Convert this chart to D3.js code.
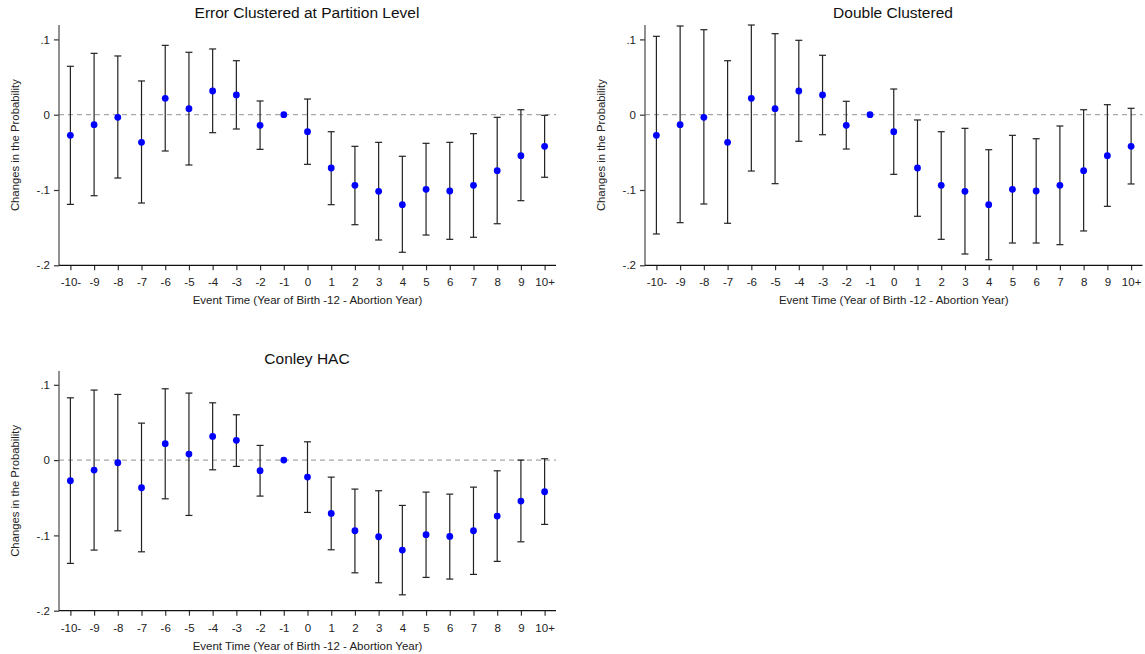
<!DOCTYPE html>
<html><head><meta charset="utf-8">
<script src="https://cdn.jsdelivr.net/npm/d3@7"></script>
<style>body{margin:0;background:#fff;} svg{display:block;font-family:"Liberation Sans",Arial,sans-serif;}</style>
</head><body>
<svg id="c" width="1145" height="654"></svg>
<script>
const categories = ["-10-","-9","-8","-7","-6","-5","-4","-3","-2","-1","0","1","2","3","4","5","6","7","8","9","10+"];
const estimates = [-0.0274,-0.0133,-0.0035,-0.0367,0.0218,0.0080,0.0315,0.0262,-0.0141,0,-0.0226,-0.0708,-0.0938,-0.1018,-0.1195,-0.0991,-0.1013,-0.0938,-0.0744,-0.0544,-0.0420];
const partitionUpper = [0.0643,0.0815,0.0780,0.0448,0.0921,0.0829,0.0873,0.0717,0.0182,null,0.0208,-0.0226,-0.0420,-0.0367,-0.0552,-0.0380,-0.0367,-0.0252,-0.0035,0.0066,-0.0008];
const partitionLower = [-0.1191,-0.1076,-0.0841,-0.1173,-0.0482,-0.0668,-0.0239,-0.0190,-0.0460,null,-0.0659,-0.1195,-0.1461,-0.1664,-0.1827,-0.1598,-0.1655,-0.1628,-0.1448,-0.1142,-0.0831];
const doubleUpper = [0.1041,0.1178,0.1129,0.0717,0.1191,0.1076,0.0988,0.0789,0.0178,null,0.0341,-0.0070,-0.0226,-0.0181,-0.0465,-0.0274,-0.0319,-0.0150,0.0066,0.0133,0.0085];
const doubleLower = [-0.1584,-0.1434,-0.1186,-0.1442,-0.0748,-0.0916,-0.0353,-0.0266,-0.0456,null,-0.0792,-0.1349,-0.1655,-0.1850,-0.1926,-0.1704,-0.1704,-0.1726,-0.1544,-0.1217,-0.0920];
const conleyUpper = [0.0827,0.0930,0.0872,0.0491,0.0947,0.0890,0.0761,0.0602,0.0195,null,0.0243,-0.0226,-0.0385,-0.0407,-0.0602,-0.0425,-0.0452,-0.0359,-0.0142,0.0000,0.0018];
const conleyLower = [-0.1372,-0.1195,-0.0939,-0.1218,-0.0514,-0.0735,-0.0129,-0.0084,-0.0478,null,-0.0695,-0.1191,-0.1497,-0.1629,-0.1789,-0.1558,-0.1580,-0.1518,-0.1345,-0.1085,-0.0854];
const yTickValues = [-0.2,-0.1,0,0.1];
const yTickLabels = ["-.2","-.1","0",".1"];
const panelTitles = ["Error Clustered at Partition Level","Double Clustered","Conley HAC"];
const yLabel = "Changes in the Probability";
const xLabel = "Event Time (Year of Birth -12 - Abortion Year)";

const panels = [
  {title: panelTitles[0], up: partitionUpper, lo: partitionLower, x0: 59, x1: 556, yTop: 25, yBot: 265.3, tx: 307},
  {title: panelTitles[1], up: doubleUpper, lo: doubleLower, x0: 645, x1: 1142.5, yTop: 25, yBot: 265.3, tx: 893},
  {title: panelTitles[2], up: conleyUpper, lo: conleyLower, x0: 59, x1: 556, yTop: 371, yBot: 610.7, tx: 307}
];

const svg = d3.select("#c");
panels.forEach(p => {
  const g = svg.append("g");
  const x = d3.scalePoint().domain(categories).range([p.x0, p.x1]).padding(0.48);
  const y = d3.scaleLinear().domain([-0.2, 0.1]).range([p.yBot, p.yBot - 0.3*753]);
  const yMax = y.invert(p.yTop);
  // zero line
  g.append("line").attr("x1", p.x0).attr("x2", p.x1).attr("y1", y(0)).attr("y2", y(0))
    .attr("stroke", "#a8a8a8").attr("stroke-width", 1.3).attr("stroke-dasharray", "5,4");
  // y axis
  const ya = d3.axisLeft(y).tickValues(yTickValues).tickFormat((d,i)=>yTickLabels[i]).tickSize(5).tickPadding(4);
  const yg = g.append("g").attr("transform", `translate(${p.x0},0)`).call(ya);
  yg.select(".domain").remove();
  g.append("line").attr("x1", p.x0).attr("x2", p.x0).attr("y1", p.yTop).attr("y2", p.yBot).attr("stroke", "#555").attr("stroke-width", 1.3);
  // x axis
  const xa = d3.axisBottom(x).tickSize(5).tickPadding(8);
  const xg = g.append("g").attr("transform", `translate(0,${p.yBot})`).call(xa);
  xg.select(".domain").remove();
  g.append("line").attr("x1", p.x0).attr("x2", p.x1).attr("y1", p.yBot).attr("y2", p.yBot).attr("stroke", "#111").attr("stroke-width", 1.3);
  [yg, xg].forEach(a => {
    a.selectAll(".tick line").attr("stroke", "#333").attr("stroke-width", 1.2);
    a.selectAll(".tick text").attr("font-size", 11.5).attr("fill", "#222").attr("font-family", '"Liberation Sans",Arial,sans-serif');
  });
  // error bars
  const data = categories.map((c,i)=>({c, est: estimates[i], up: p.up[i], lo: p.lo[i]}));
  const eb = data.filter(d => d.up !== null);
  const cap = 3.5;
  g.selectAll(".bar").data(eb).enter().append("line")
    .attr("x1", d=>x(d.c)).attr("x2", d=>x(d.c)).attr("y1", d=>y(d.up)).attr("y2", d=>y(d.lo))
    .attr("stroke", "#222").attr("stroke-width", 1.2);
  ["up","lo"].forEach(k => {
    g.selectAll(".cap"+k).data(eb).enter().append("line")
      .attr("x1", d=>x(d.c)-cap).attr("x2", d=>x(d.c)+cap).attr("y1", d=>y(d[k])).attr("y2", d=>y(d[k]))
      .attr("stroke", "#222").attr("stroke-width", 1.2);
  });
  g.selectAll(".pt").data(data).enter().append("circle")
    .attr("cx", d=>x(d.c)).attr("cy", d=>y(d.est)).attr("r", 3.4).attr("fill", "#0000ff");
  // titles & labels
  g.append("text").attr("x", p.tx).attr("y", p.yTop - 7).attr("text-anchor", "middle")
    .attr("font-size", 15.5).attr("fill", "#111").text(p.title);
  g.append("text").attr("transform", `translate(${p.x0 - 40},${(y(yMax)+p.yBot)/2}) rotate(-90)`)
    .attr("text-anchor", "middle").attr("font-size", 11.3).attr("fill", "#222").text(yLabel);
  g.append("text").attr("x", (p.x0+p.x1)/2).attr("y", p.yBot + 39).attr("text-anchor", "middle")
    .attr("font-size", 11.5).attr("fill", "#222").text(xLabel);
});
</script>
</body></html>
